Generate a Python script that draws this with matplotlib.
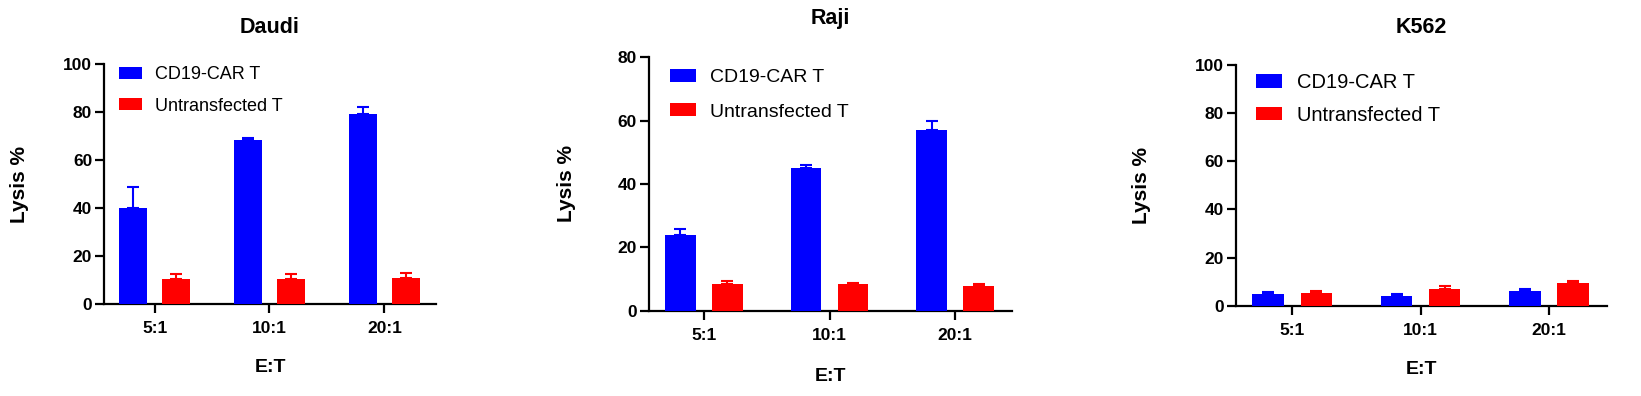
import numpy as np
import matplotlib
matplotlib.use('Agg')
import matplotlib.pyplot as plt

plt.rcParams['font.family'] = ['Liberation Sans', 'DejaVu Sans']

# ── DATA ──────────────────────────────────────────────────────
ratios = ['5:1', '10:1', '20:1']
series = ['CD19-CAR T', 'Untransfected T']
targets = ['Daudi', 'Raji', 'K562']

daudi_car     = [40.0, 68.4, 79.3]
daudi_car_err = [8.8, 0.6, 3.0]
daudi_un      = [10.4, 10.4, 10.8]
daudi_un_err  = [1.9, 2.2, 2.2]

raji_car      = [23.9, 45.1, 57.1]
raji_car_err  = [2.0, 1.0, 2.9]
raji_un       = [8.4, 8.4, 7.8]
raji_un_err   = [1.0, 0.4, 0.6]

k562_car      = [4.9, 4.0, 6.1]
k562_car_err  = [0.7, 0.7, 0.7]
k562_un       = [5.3, 6.9, 9.4]
k562_un_err   = [0.8, 1.3, 0.7]

y_max = [100, 80, 100]

# ── LAYOUT (figure fractions, per panel) ──────────────────────
panel_rects = [
    [0.0634, 0.2323, 0.2023, 0.606],
    [0.3953, 0.2154, 0.2212, 0.640],
    [0.7530, 0.2280, 0.2263, 0.608],
]
title_pad  = [22, 24, 23]
ylab_x     = [-0.226, -0.200, -0.229]
leg_anchor = [(0.045, 0.99), (0.060, 0.955), (0.055, 0.966)]
leg_size   = [13, 14, 14.5]
leg_space  = [0.78, 0.9, 0.68]

car_vals = [daudi_car, raji_car, k562_car]
car_errs = [daudi_car_err, raji_car_err, k562_car_err]
un_vals  = [daudi_un, raji_un, k562_un]
un_errs  = [daudi_un_err, raji_un_err, k562_un_err]

colors = ['#0000FF', '#FF0000']
width = 0.245
offset = 0.187

fig = plt.figure(figsize=(16.41, 3.96), dpi=100)
x = np.arange(len(ratios))

for i, name in enumerate(targets):
    ax = fig.add_axes(panel_rects[i])
    groups = [(car_vals[i], car_errs[i], -offset), (un_vals[i], un_errs[i], offset)]
    for j, (vals, errs, off) in enumerate(groups):
        ax.errorbar(x + off, vals, yerr=[np.zeros(len(vals)), errs], fmt='none',
                    ecolor=colors[j], elinewidth=1.5, capsize=4.5, capthick=1.5, zorder=2)
        ax.bar(x + off, vals, width=width, color=colors[j], label=series[j], zorder=3)

    ax.set_xlim(-0.44, 2.45)
    ax.set_ylim(0, y_max[i])
    ax.set_yticks(np.arange(0, y_max[i] + 1, 20))
    ax.set_xticks(x)
    ax.set_xticklabels(ratios)

    for s in ['top', 'right']:
        ax.spines[s].set_visible(False)
    for s in ['left', 'bottom']:
        ax.spines[s].set_linewidth(1.6)

    ax.tick_params(axis='both', direction='out', length=6.5, width=1.6, labelsize=12.5)
    ax.tick_params(axis='y', pad=2)
    ax.tick_params(axis='x', pad=6)
    for lbl in ax.get_xticklabels() + ax.get_yticklabels():
        lbl.set_fontweight('bold')

    ax.set_title(name, fontsize=15.5, fontweight='bold', pad=title_pad[i])
    ax.set_ylabel('Lysis %', fontsize=15, fontweight='bold')
    ax.yaxis.set_label_coords(ylab_x[i], 0.5)
    ax.set_xlabel('E:T', fontsize=14, fontweight='bold')
    ax.xaxis.set_label_coords(0.5, -0.228)

    ax.legend(loc='upper left', bbox_to_anchor=leg_anchor[i], frameon=False,
              fontsize=leg_size[i], handlelength=1.3, handleheight=0.65,
              handletextpad=0.72, labelspacing=leg_space[i], borderpad=0, borderaxespad=0)

plt.savefig('out.png', dpi=100)
